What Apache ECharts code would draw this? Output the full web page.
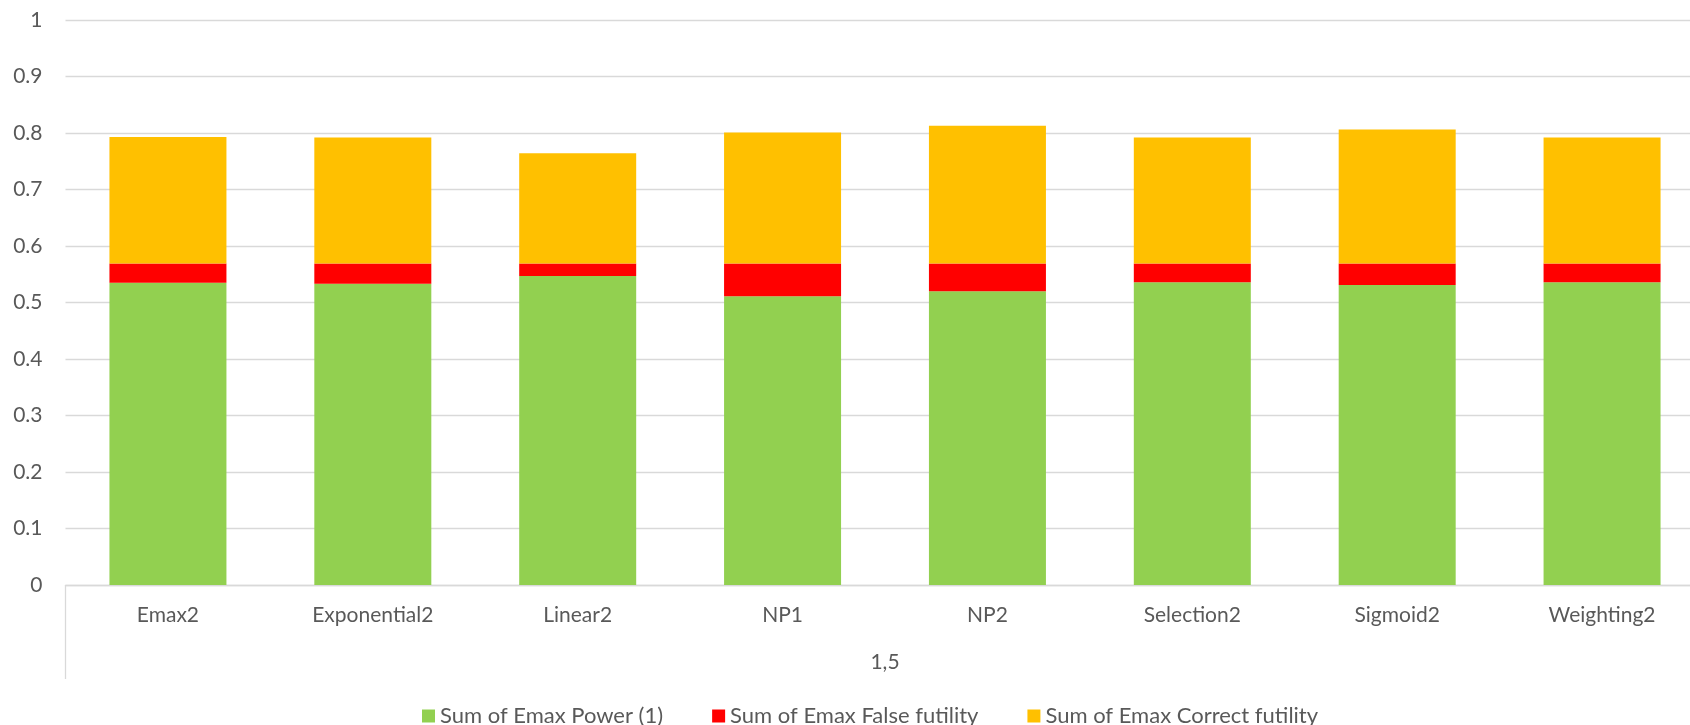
<!DOCTYPE html>
<html>
<head>
<meta charset="utf-8">
<script src="https://cdn.jsdelivr.net/npm/echarts@6/dist/echarts.min.js"></script>
<style>
  html, body { margin: 0; padding: 0; background: #ffffff; }
  #chart { width: 1690px; height: 725px; }
</style>
</head>
<body>
<div id="chart"></div>
<script>
// Models compared at dose level 1,5
const categories = ['Emax2', 'Exponential2', 'Linear2', 'NP1', 'NP2', 'Selection2', 'Sigmoid2', 'Weighting2'];
const groupLabels = ['1,5'];
const yTicks = [0, 0.1, 0.2, 0.3, 0.4, 0.5, 0.6, 0.7, 0.8, 0.9, 1];

const seriesNames = ['Sum of Emax Power (1)', 'Sum of Emax False futility', 'Sum of Emax Correct futility'];
const powerValues = [0.535, 0.533, 0.547, 0.511, 0.520, 0.536, 0.531, 0.536];
const falseFutilityValues = [0.034, 0.036, 0.022, 0.058, 0.049, 0.033, 0.038, 0.033];
const correctFutilityValues = [0.224, 0.223, 0.195, 0.232, 0.244, 0.223, 0.237, 0.223];

const seriesColors = ['#92D050', '#FF0000', '#FFC000'];
const textColor = '#595959';
const lineColor = '#D9D9D9';
const fontFamily = 'Lato, "Noto Sans", sans-serif';

const chart = echarts.init(document.getElementById('chart'), null, { renderer: 'canvas' });

const makeBar = (name, data, color) => ({
  name: name,
  type: 'bar',
  stack: 'total',
  data: data,
  barWidth: 117,
  itemStyle: { color: color },
  emphasis: { disabled: true }
});

chart.setOption({
  animation: false,
  backgroundColor: '#ffffff',
  textStyle: { fontFamily: fontFamily },
  grid: {
    left: 65.5,
    top: 20,
    width: 1639,
    height: 565,
    containLabel: false,
    outerBoundsMode: 'none'
  },
  legend: {
    data: seriesNames,
    left: 417,
    top: 700,
    itemWidth: 13,
    itemHeight: 13,
    itemGap: 49,
    icon: 'rect',
    textStyle: { color: textColor, fontSize: 22, fontFamily: fontFamily }
  },
  xAxis: [
    {
      type: 'category',
      data: categories,
      position: 'bottom',
      axisLine: { show: true, lineStyle: { color: lineColor, width: 1.3 } },
      axisTick: { show: false },
      axisLabel: { color: textColor, fontSize: 21, margin: 20, fontFamily: fontFamily }
    },
    {
      type: 'category',
      data: groupLabels,
      position: 'bottom',
      boundaryGap: true,
      axisLine: { show: false },
      axisTick: { show: true, length: 94, inside: false, lineStyle: { color: lineColor, width: 1.3 } },
      axisLabel: { color: textColor, fontSize: 21, margin: 67, fontFamily: fontFamily },
      splitLine: { show: false }
    }
  ],
  yAxis: {
    type: 'value',
    min: 0,
    max: 1,
    interval: 0.1,
    axisLine: { show: false },
    axisTick: { show: false },
    axisLabel: {
      color: textColor,
      fontSize: 21,
      margin: 23,
      fontFamily: fontFamily,
      formatter: (v) => {
        const t = yTicks.find((y) => Math.abs(y - v) < 1e-9);
        return String(t !== undefined ? t : Math.round(v * 10) / 10);
      }
    },
    splitLine: { show: true, lineStyle: { color: lineColor, width: 1.3 } }
  },
  series: [
    makeBar(seriesNames[0], powerValues, seriesColors[0]),
    makeBar(seriesNames[1], falseFutilityValues, seriesColors[1]),
    makeBar(seriesNames[2], correctFutilityValues, seriesColors[2])
  ]
});
</script>
</body>
</html>
